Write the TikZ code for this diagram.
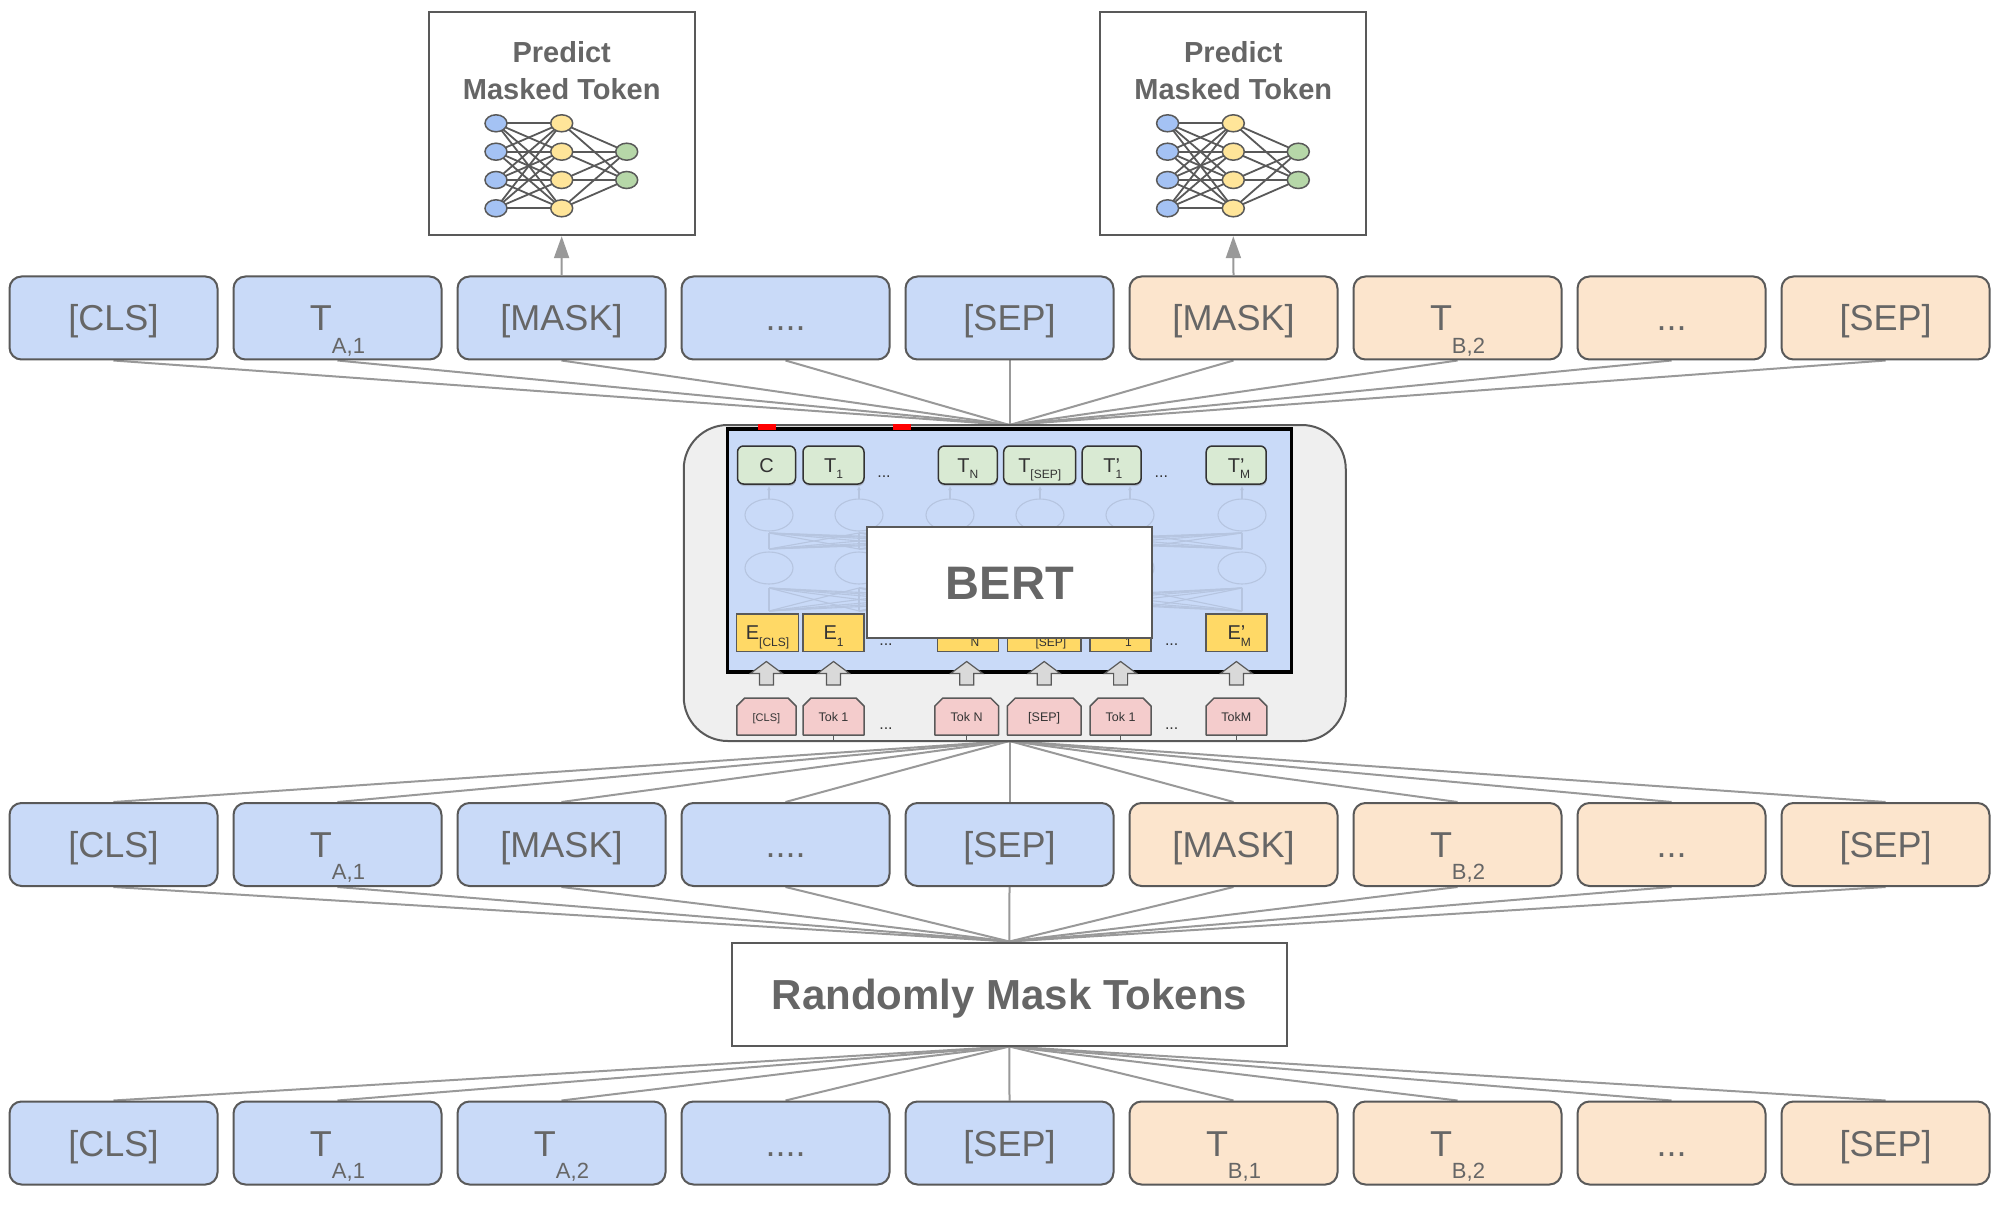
\documentclass[tikz,border=0pt]{standalone}
\usepackage{fontspec}
\setmainfont{Liberation Sans}
\usetikzlibrary{arrows.meta,backgrounds,shadows}
\definecolor{tokblue}{HTML}{C9DAF8}
\definecolor{tokorange}{HTML}{FCE5CD}
\definecolor{txtgray}{HTML}{666666}
\definecolor{bdgray}{HTML}{595959}
\definecolor{lngray}{HTML}{999999}
\definecolor{boxgray}{HTML}{EFEFEF}
\definecolor{encblue}{HTML}{C9DAF8}
\definecolor{tgreen}{HTML}{D9EAD3}
\definecolor{eyellow}{HTML}{FFD966}
\definecolor{tpink}{HTML}{F4CCCC}
\definecolor{nnblue}{HTML}{A4C2F4}
\definecolor{nnyellow}{HTML}{FFE599}
\definecolor{nngreen}{HTML}{B6D7A8}
\definecolor{faintc}{HTML}{B6C5E0}
\definecolor{darktxt}{HTML}{333333}
\definecolor{arrgray}{HTML}{D9D9D9}
\newcommand\mysub[1]{\smash{\raisebox{-22pt}{\fontsize{22}{22}\selectfont #1}}}
\newcommand\ssub[1]{\smash{\raisebox{-6.5pt}{\fontsize{12}{12}\selectfont #1}}}
\newcommand\pinkbox[4]{%
  \pgfmathsetmacro\pkl{#2-#3/2}\pgfmathsetmacro\pkr{#2+#3/2}%
  \filldraw[fill=tpink,draw=bdgray,line width=1.5pt,line join=round]
    (\pkl,735) -- (\pkl,706) -- ({\pkl+8},698) -- ({\pkr-8},698) -- (\pkr,706) -- (\pkr,735) -- cycle;
  \node[ptext] (#1) at (#2,716.5) {#4};}
\newcommand\nnicon[1]{%
  \foreach \ya in {123.3,151.7,180,208.3}{
    \foreach \yb in {123.3,151.7,180,208.3}{\draw[nnline] ({#1-65.7},\ya) -- (#1,\yb);}
    \foreach \yb in {151.7,180}{\draw[nnline] (#1,\ya) -- ({#1+65},\yb);}
  }
  \foreach \ya in {123.3,151.7,180,208.3}{
    \draw[nncirc,fill=nnblue] ({#1-65.7},\ya) ellipse [x radius=11pt,y radius=8.5pt];
    \draw[nncirc,fill=nnyellow] (#1,\ya) ellipse [x radius=11pt,y radius=8.5pt];
  }
  \foreach \ya in {151.7,180}{
    \draw[nncirc,fill=nngreen] ({#1+65},\ya) ellipse [x radius=11pt,y radius=8.5pt];
  }}
\begin{document}
\begin{tikzpicture}[x=1pt,y=-1pt,
  tok/.style={draw=bdgray,line width=2pt,rounded corners=12pt,minimum height=83pt,minimum width=208pt,inner sep=0pt,text height=26pt,text depth=0pt,font={\fontsize{36}{40}\selectfont},text=txtgray},
  tokA/.style={tok,fill=tokblue},
  tokB/.style={tok,fill=tokorange},
  tokBn/.style={tokB,minimum width=188pt},
  conn/.style={draw=lngray,line width=2pt},
  plainbox/.style={draw=bdgray,line width=2pt,fill=white,inner sep=0pt},
  ptitle/.style={anchor=base,font={\bfseries\fontsize{29}{32}\selectfont},text=txtgray,inner sep=0pt},
  nnline/.style={draw=bdgray,line width=1.8pt},
  nncirc/.style={draw=bdgray,line width=1.5pt},
  tbox/.style={draw=darktxt,line width=1.5pt,fill=tgreen,rounded corners=6pt,minimum height=38pt,inner sep=0pt,text height=14pt,text depth=0pt,font={\fontsize{20}{22}\selectfont},text=darktxt,drop shadow={shadow xshift=0.5pt,shadow yshift=-2pt,opacity=0.35}},
  ebox/.style={draw=bdgray,line width=1.5pt,fill=eyellow,minimum height=37.7pt,inner sep=0pt,text height=14pt,text depth=0pt,font={\fontsize{20}{22}\selectfont},text=darktxt},
  ptext/.style={inner sep=0pt,text height=9pt,text depth=0pt,font={\fontsize{12.5}{14}\selectfont},text=darktxt},
  dots/.style={anchor=base,inner sep=0pt,font={\fontsize{16}{18}\selectfont},text=darktxt},
  faintln/.style={draw=faintc,line width=1.1pt},
  blockarr/.style={fill=arrgray,draw=bdgray,line width=1.2pt,line join=miter}
]
\useasboundingbox (0,0) rectangle (2006,1206);

% ---- predict boxes
\node[plainbox,minimum width=266pt,minimum height=223pt] (pred1) at (561.7,123.7) {};
\node[ptitle] (pred1a) at (561.7,62.7) {Predict};
\node[ptitle] (pred1b) at (561.7,99.3) {Masked Token};
\nnicon{561.7}
\node[plainbox,minimum width=266pt,minimum height=223pt] (pred2) at (1233.3,123.7) {};
\node[ptitle] (pred2a) at (1233.3,62.7) {Predict};
\node[ptitle] (pred2b) at (1233.3,99.3) {Masked Token};
\nnicon{1233.3}

% ---- row 1
\node[tokA] (r11) at (113.5,318) {[CLS]};
\node[tokA] (r12) at (337.5,318) {T\mysub{A,1}};
\node[tokA] (r13) at (561.5,318) {[MASK]};
\node[tokA] (r14) at (785.5,318) {....};
\node[tokA] (r15) at (1009.5,318) {[SEP]};
\node[tokB] (r16) at (1233.5,318) {[MASK]};
\node[tokB] (r17) at (1457.5,318) {T\mysub{B,2}};
\node[tokBn] (r18) at (1671.5,318) {...};
\node[tokB] (r19) at (1885.5,318) {[SEP]};

% ---- row 2
\node[tokA] (r21) at (113.5,844.5) {[CLS]};
\node[tokA] (r22) at (337.5,844.5) {T\mysub{A,1}};
\node[tokA] (r23) at (561.5,844.5) {[MASK]};
\node[tokA] (r24) at (785.5,844.5) {....};
\node[tokA] (r25) at (1009.5,844.5) {[SEP]};
\node[tokB] (r26) at (1233.5,844.5) {[MASK]};
\node[tokB] (r27) at (1457.5,844.5) {T\mysub{B,2}};
\node[tokBn] (r28) at (1671.5,844.5) {...};
\node[tokB] (r29) at (1885.5,844.5) {[SEP]};

% ---- row 3
\node[tokA] (r31) at (113.5,1143) {[CLS]};
\node[tokA] (r32) at (337.5,1143) {T\mysub{A,1}};
\node[tokA] (r33) at (561.5,1143) {T\mysub{A,2}};
\node[tokA] (r34) at (785.5,1143) {....};
\node[tokA] (r35) at (1009.5,1143) {[SEP]};
\node[tokB] (r36) at (1233.5,1143) {T\mysub{B,1}};
\node[tokB] (r37) at (1457.5,1143) {T\mysub{B,2}};
\node[tokBn] (r38) at (1671.5,1143) {...};
\node[tokB] (r39) at (1885.5,1143) {[SEP]};

% ---- randomly mask
\node[plainbox,minimum width=555pt,minimum height=103pt,font={\bfseries\fontsize{42}{46}\selectfont},text=txtgray,text height=30pt,text depth=0pt] (rand) at (1009.4,994) {Randomly Mask Tokens};

% ---- BERT block
\node[draw=bdgray,line width=2pt,fill=boxgray,rounded corners=44pt,minimum width=662pt,minimum height=316pt,inner sep=0pt] (frame) at (1014.75,583) {};
\node[draw=black,line width=3.5pt,fill=encblue,minimum width=564pt,minimum height=243pt,inner sep=0pt] (enc) at (1009.6,550.3) {};
\foreach \xa in {769,859,950,1040,1130,1242}{
  \foreach \xb in {769,859,950,1040,1130,1242}{
    \draw[faintln] (\xa,549) -- (\xb,533);
    \draw[faintln] (\xa,611) -- (\xb,588);
  }
}
\foreach \xa in {769,859,950,1040,1130,1242}{
  \draw[faintln,fill=encblue] (\xa,515) ellipse [x radius=24pt,y radius=16pt];
  \draw[faintln,fill=encblue] (\xa,568) ellipse [x radius=24pt,y radius=16pt];
  \draw[faintln,-{Latex[length=4pt,width=4pt]}] (\xa,499) -- (\xa,486);
}
\node[tbox,minimum width=58pt] (gC) at (766.5,465) {C};
\node[tbox,minimum width=61pt] (gT1) at (833.5,465) {T\ssub{1}};
\node[tbox,minimum width=59pt] (gTN) at (967.8,465) {T\ssub{N}};
\node[tbox,minimum width=72pt] (gTS) at (1039.7,465) {T\ssub{[SEP]}};
\node[tbox,minimum width=59pt] (gT1p) at (1111.7,465) {T\rlap{\ssub{1}}’};
\node[tbox,minimum width=60pt] (gTMp) at (1236.2,465) {T\rlap{\ssub{M}}’};
\node[dots] (gd1) at (884,477) {...};
\node[dots] (gd2) at (1161.3,477) {...};
\node[ebox,minimum width=61.6pt] (eC) at (767.5,632.8) {E\ssub{[CLS]}};
\node[ebox,minimum width=61pt] (e1) at (833.5,632.8) {E\ssub{1}};
\node[ebox,minimum width=61pt] (eN) at (968.2,632.8) {E\ssub{N}};
\node[ebox,minimum width=73.7pt] (eS) at (1044.2,632.8) {E\ssub{[SEP]}};
\node[ebox,minimum width=61pt] (e1p) at (1120.6,632.8) {E\rlap{\ssub{1}}’};
\node[ebox,minimum width=61pt] (eMp) at (1236.4,632.8) {E\rlap{\ssub{M}}’};
\node[dots] (ed1) at (886,645) {...};
\node[dots] (ed2) at (1171.7,645) {...};
\node[plainbox,minimum width=285pt,minimum height=111.6pt,font={\bfseries\fontsize{47}{50}\selectfont},text=txtgray,text height=33.6pt,text depth=0pt] (bert) at (1009.8,582.5) {BERT};
\foreach \cx in {766.4,833.5,966.7,1044.2,1120.6,1236.4}{
  \draw[blockarr] ({\cx-7},685) -- ({\cx-7},673.5) -- ({\cx-16},673.5) -- (\cx,661.5) -- ({\cx+16},673.5) -- ({\cx+7},673.5) -- ({\cx+7},685) -- cycle;
}
\pinkbox{pC}{766.4}{59.3}{\fontsize{11}{12}\selectfont [CLS]}
\pinkbox{p1}{833.5}{61}{Tok 1}
\pinkbox{pN}{966.7}{63.8}{Tok N}
\pinkbox{pS}{1044.2}{73.7}{[SEP]}
\pinkbox{p1p}{1120.6}{60.8}{Tok 1}
\pinkbox{pM}{1236.4}{60.7}{TokM}
\node[dots] (pd1) at (886,729) {...};
\node[dots] (pd2) at (1171.7,729) {...};
\foreach \n in {p1,pN,p1p,pM}{\draw[draw=bdgray,line width=1.2pt] (\n.center) ++(0,18.5) -- ++(0,6);}
\fill[red] (758,424) rectangle (776,429.5);
\fill[red] (893,424) rectangle (911,429.5);

\coordinate (topc) at (1009.5,425);
\coordinate (botc) at (1009.5,741);

% ---- arrows to predict boxes
\draw[conn,-{Triangle[length=22pt,width=15pt]}] (r13.north) -- (pred1.south);
\draw[conn,-{Triangle[length=22pt,width=15pt]}] (r16.north) -- (pred2.south);

\begin{pgfonlayer}{background}
\fill[white] (0,0) rectangle (2006,1206);
\foreach \i in {1,...,9}{
  \draw[conn] (r1\i.south) -- (topc);
  \draw[conn] (botc) -- (r2\i.north);
  \draw[conn] (r2\i.south) -- (rand.north);
  \draw[conn] (rand.south) -- (r3\i.north);
}
\end{pgfonlayer}
\end{tikzpicture}
\end{document}
